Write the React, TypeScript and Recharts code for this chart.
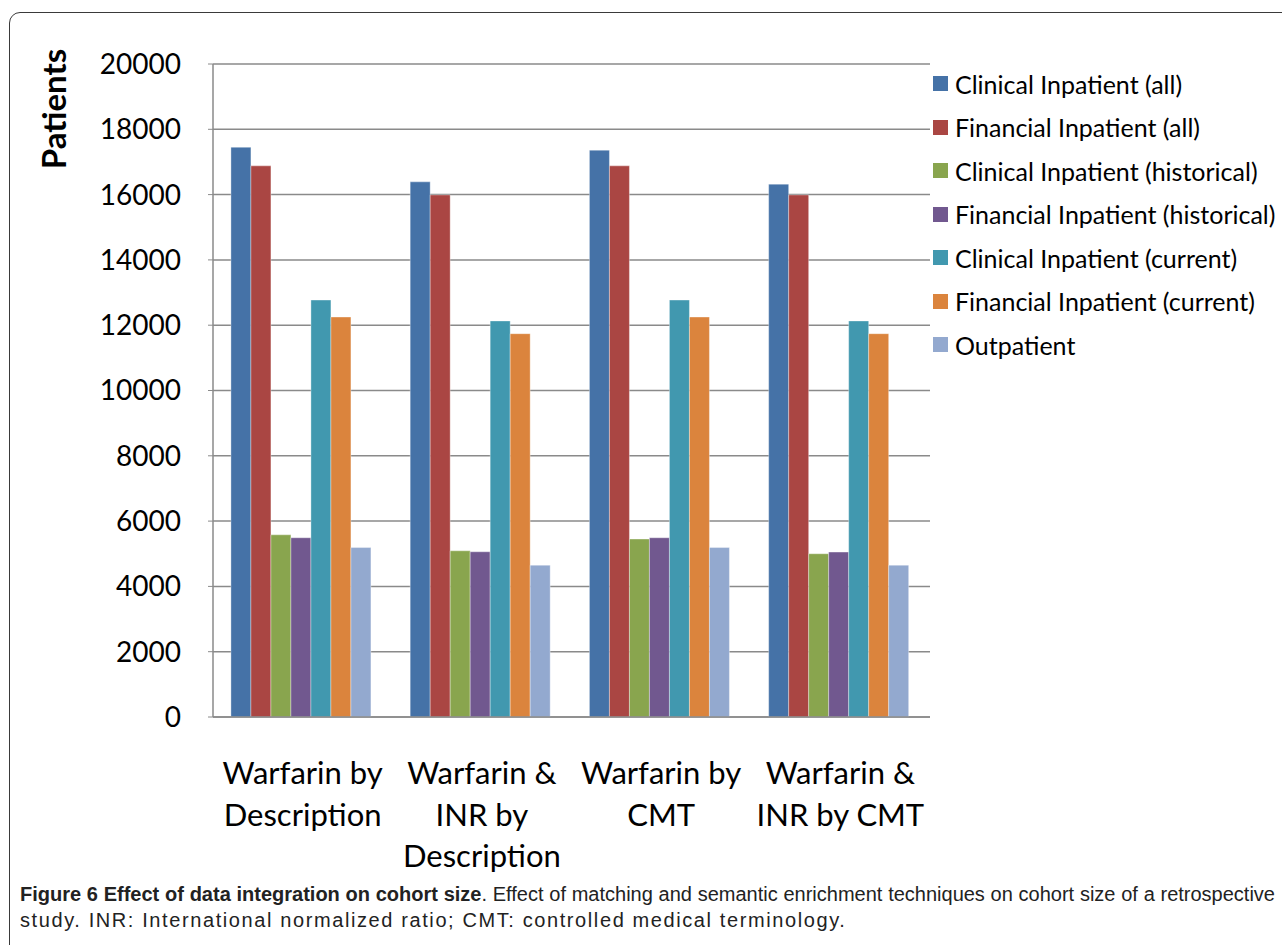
import { BarChart, Bar, XAxis, YAxis, CartesianGrid } from 'recharts';

const categories = [
  'Warfarin by\nDescription',
  'Warfarin &\nINR by\nDescription',
  'Warfarin by\nCMT',
  'Warfarin &\nINR by CMT',
];

const clinicalAll = [17450, 16390, 17360, 16320];
const financialAll = [16880, 15990, 16880, 15990];
const clinicalHistorical = [5580, 5090, 5450, 5000];
const financialHistorical = [5490, 5060, 5490, 5050];
const clinicalCurrent = [12770, 12130, 12770, 12130];
const financialCurrent = [12250, 11740, 12250, 11740];
const outpatient = [5190, 4650, 5190, 4650];

const yTicks = [0, 2000, 4000, 6000, 8000, 10000, 12000, 14000, 16000, 18000, 20000];

const series = [
  { key: 'clinicalAll', name: 'Clinical Inpatient (all)', color: '#4572A7', values: clinicalAll },
  { key: 'financialAll', name: 'Financial Inpatient (all)', color: '#AA4643', values: financialAll },
  { key: 'clinicalHistorical', name: 'Clinical Inpatient (historical)', color: '#89A54E', values: clinicalHistorical },
  { key: 'financialHistorical', name: 'Financial Inpatient (historical)', color: '#71588F', values: financialHistorical },
  { key: 'clinicalCurrent', name: 'Clinical Inpatient (current)', color: '#4198AF', values: clinicalCurrent },
  { key: 'financialCurrent', name: 'Financial Inpatient (current)', color: '#DB843D', values: financialCurrent },
  { key: 'outpatient', name: 'Outpatient', color: '#93A9CF', values: outpatient },
];

const data = categories.map((name, i) => {
  const row: Record<string, string | number> = { name };
  series.forEach((s) => { row[s.key] = s.values[i]; });
  return row;
});

const FONT = 'Lato, "Open Sans", sans-serif';
const GRID = '#8a8a8a';

function CategoryTick({ x, y, payload }: any) {
  const lines = String(payload.value).split('\n');
  return (
    <text x={x} y={y + 59} textAnchor="middle" fontFamily={FONT} fontSize={31} fill="#000">
      {lines.map((l, i) => (
        <tspan key={i} x={x} dy={i === 0 ? 0 : 41.5}>{l}</tspan>
      ))}
    </text>
  );
}

function AxisTitle() {
  return (
    <text
      x={66} y={109}
      transform="rotate(-90, 66, 109)"
      textAnchor="middle"
      fontFamily={FONT}
      fontWeight={700}
      fontSize={33}
      fill="#000"
    >
      Patients
    </text>
  );
}

export default function App() {
  return (
    <div style={{ position: 'absolute', left: 0, top: 0, width: 1282, height: 945, overflow: 'hidden', background: '#fff' }}>
      <div style={{
        position: 'absolute', left: 9, top: 12, width: 1300, height: 960,
        border: '1.5px solid #3a3a3a', borderRadius: 11,
      }} />
      <div style={{ position: 'absolute', left: 0, top: 0 }}>
        <BarChart
          width={1282}
          height={880}
          data={data}
          margin={{ top: 64, right: 352, left: 0, bottom: 0 }}
          barCategoryGap="10%"
          barGap={0}
        >
          <CartesianGrid vertical={false} stroke={GRID} strokeWidth={1.5} />
          <XAxis
            dataKey="name"
            height={163}
            interval={0}
            tick={<CategoryTick />}
            axisLine={{ stroke: GRID, strokeWidth: 1.5 }}
            tickLine={false}
          />
          <YAxis
            width={213}
            domain={[0, 20000]}
            ticks={yTicks}
            interval={0}
            tick={{ fontSize: 28, fill: '#000', fontFamily: FONT }}
            tickSize={5}
            tickMargin={27}
            axisLine={{ stroke: GRID, strokeWidth: 1.5 }}
            tickLine={{ stroke: GRID }}
            label={{ content: () => <AxisTitle /> }}
          />
          {series.map((s) => (
            <Bar
              key={s.key}
              dataKey={s.key}
              name={s.name}
              fill={s.color}
              stroke="rgba(255,255,255,0.35)"
              strokeWidth={1}
              isAnimationActive={false}
            />
          ))}
        </BarChart>
      </div>
      <div style={{ position: 'absolute', left: 933, top: 62, fontFamily: FONT, fontSize: 25, color: '#000' }}>
        {series.map((s) => (
          <div key={s.key} style={{ display: 'flex', alignItems: 'center', height: 43.5 }}>
            <span style={{ width: 15, height: 15, background: s.color, marginRight: 7, display: 'inline-block' }} />
            <span>{s.name}</span>
          </div>
        ))}
      </div>
      <div style={{
        position: 'absolute', left: 20, top: 881, width: 1255,
        fontFamily: '"Liberation Sans", Arial, sans-serif',
        fontSize: 20, lineHeight: '26px', color: '#222',
      }}>
        <div style={{ textAlign: 'justify', textAlignLast: 'justify', whiteSpace: 'nowrap' as const }}>
          <b>Figure 6 Effect of data integration on cohort size</b>. Effect of matching and semantic enrichment techniques on cohort size of a retrospective
        </div>
        <div style={{ letterSpacing: '1.6px' }}>study. INR: International normalized ratio; CMT: controlled medical terminology.</div>
      </div>
    </div>
  );
}
